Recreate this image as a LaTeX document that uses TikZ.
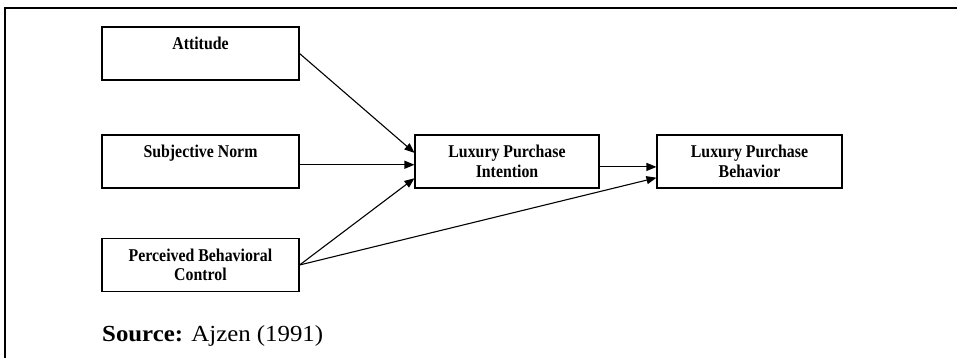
\documentclass[tikz,border=0pt]{standalone}
\usepackage{fontspec}
\setmainfont{Liberation Serif}
\newfontfamily\boxfont[FakeStretch=0.88]{Liberation Serif}
\newfontfamily\srcfont[FakeStretch=1.08]{Liberation Serif}
\usetikzlibrary{arrows.meta,calc}
\begin{document}
\begin{tikzpicture}[x=1pt,y=-1pt,
  box/.style={draw, line width=1.1pt, rectangle, minimum width=197pt, minimum height=53pt,
    inner sep=0pt, align=center, font=\boxfont\fontsize{18}{19.5}\selectfont\bfseries},
  conn/.style={line width=1.1pt, -{Triangle[length=10pt,width=8pt]}}]
\useasboundingbox (0,0) rectangle (957,358);
\draw[line width=2pt] (957,8) -- (5,8) -- (5,358);
\node[box] (att) at (200.5,53.5) {Attitude\\~};
\node[box] (sn) at (200.5,161.5) {Subjective Norm\\~};
\node[box] (pbc) at (200.5,265) {Perceived Behavioral\\Control};
\node[box, minimum width=184pt] (lpi) at (507,161.5) {Luxury Purchase\\Intention};
\node[box, minimum width=185pt] (lpb) at (749.5,161.5) {Luxury Purchase\\Behavior};
\node[anchor=base west, inner sep=0pt, font=\srcfont\fontsize{23}{26}\selectfont] (src) at (102,341) {\textbf{Source:} Ajzen (1991)};
\coordinate (i1) at ($(lpi.north west)!0.34!(lpi.south west)$);
\coordinate (i2) at ($(lpi.north west)!0.56!(lpi.south west)$);
\coordinate (i3) at ($(lpi.north west)!0.81!(lpi.south west)$);
\coordinate (b1) at ($(lpb.north west)!0.60!(lpb.south west)$);
\coordinate (b2) at ($(lpb.north west)!0.80!(lpb.south west)$);
\coordinate (s2) at (sn.east |- i2);
\coordinate (o1) at (lpi.east |- b1);
\draw[conn] (att.east) -- (i1);
\draw[conn] (s2) -- (i2);
\draw[conn] (pbc.east) -- (i3);
\draw[conn] (o1) -- (b1);
\draw[conn] (pbc.east) -- (b2);
\end{tikzpicture}
\end{document}
